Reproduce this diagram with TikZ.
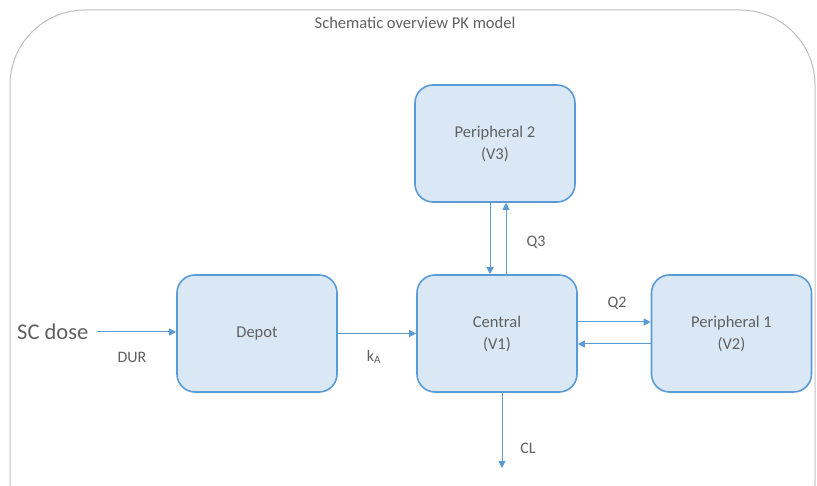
\documentclass[tikz,border=0pt]{standalone}
\usepackage{fontspec}
\setmainfont{Carlito}
\usetikzlibrary{arrows.meta}
\definecolor{boxfill}{HTML}{DAE8F6}
\definecolor{boxline}{HTML}{5B9BD5}
\definecolor{txt}{HTML}{606060}
\definecolor{outer}{HTML}{BFBFBF}
\tikzset{
  comp/.style={draw=boxline, fill=boxfill, line width=1.6pt, rounded corners=18pt,
    minimum width=160pt, minimum height=117pt, text=txt, font=\fontsize{16.5}{22}\selectfont, align=center, inner sep=0pt},
  flow/.style={draw=boxline, line width=1pt, -{Triangle[length=7pt,width=7pt]}},
  lbl/.style={text=txt, font=\fontsize{16}{19}\selectfont, inner sep=0pt}
}
\begin{document}
\begin{tikzpicture}[x=1pt,y=-1pt]
\useasboundingbox (0,0) rectangle (817,486);
\fill[white] (0,0) rectangle (817,486);
\begin{scope}
\clip (0,0) rectangle (817,486);
\draw[outer, line width=1pt, rounded corners=75pt] (10,10) rectangle (815,560);
\end{scope}
\node[lbl, font=\fontsize{16.5}{19}\selectfont] (title) at (415,23) {Schematic overview PK model};

\node[comp] (p2) at (495,143.5) {Peripheral 2\\(V3)};
\node[comp] (depot) at (257,333.5) {Depot};
\node[comp] (central) at (497,333.5) {Central\\(V1)};
\node[comp] (p1) at (731.5,333.5) {Peripheral 1\\(V2)};

\node[text=txt, font=\fontsize{22.5}{26}\selectfont, inner sep=0pt, anchor=west] (sc) at (17,332) {SC dose};
\draw[flow] (sc.east) ++(8pt,0) coordinate (scend) -- (depot.west |- scend);
\node[lbl] (dur) at (132,357) {DUR};

\draw[flow] (depot.east) -- (central.west);
\node[lbl] (ka) at (374,357) {k\textsubscript{A}};

\coordinate (cdown) at (490,0);
\coordinate (cup) at (506,0);
\draw[flow] (p2.south -| cdown) -- (central.north -| cdown);
\draw[flow] (central.north -| cup) -- (p2.south -| cup);
\node[lbl] (q3) at (536,242) {Q3};

\coordinate (rr) at (0,322);
\coordinate (ll) at (0,344);
\draw[flow] (central.east |- rr) -- (p1.west |- rr);
\draw[flow] (p1.west |- ll) -- (central.east |- ll);
\node[lbl] (q2) at (617,303) {Q2};

\coordinate (clend) at (502,468);
\draw[flow] (central.south -| clend) -- (clend);
\node[lbl] (cl) at (528,448) {CL};
\end{tikzpicture}
\end{document}
